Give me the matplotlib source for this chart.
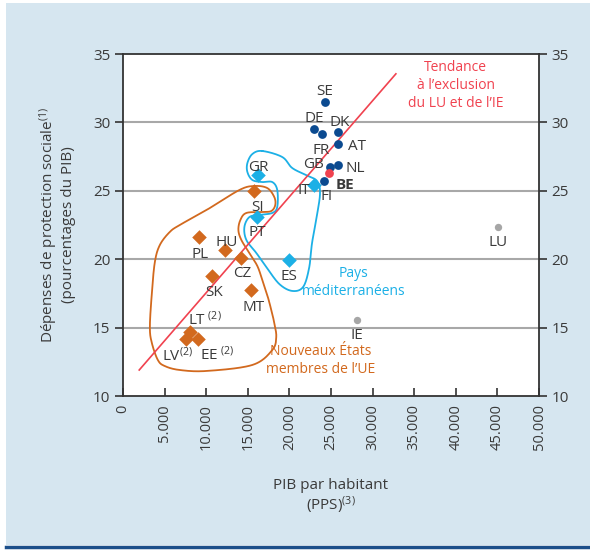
import matplotlib
matplotlib.use('Agg')
import matplotlib.pyplot as plt
from matplotlib.patches import Rectangle
from matplotlib.lines import Line2D
import numpy as np

plt.rcParams['font.family'] = ['Open Sans', 'DejaVu Sans']
plt.rcParams['mathtext.fontset'] = 'custom'
plt.rcParams['mathtext.rm'] = 'Open Sans'
plt.rcParams['mathtext.it'] = 'Open Sans'
plt.rcParams['mathtext.default'] = 'regular'

# --- donnees (PIB/hab en PPS, depenses en % du PIB) ---
# anciens Etats membres (points bleu fonce)
eu15_pays = ['SE', 'DE', 'FR', 'DK', 'AT', 'GB', 'NL', 'FI']
eu15_pib = [24300, 23000, 23900, 25900, 25900, 24900, 25800, 24100]
eu15_dep = [31.5, 29.55, 29.15, 29.3, 28.45, 26.75, 26.85, 25.75]

# Belgique (point rouge)
be_pib = [24700]
be_dep = [26.3]

# exclus de la tendance (gris)
excl_pays = ['LU', 'IE']
excl_pib = [45100, 28100]
excl_dep = [22.35, 15.55]

# pays mediterraneens (losanges bleu clair)
med_pays = ['GR', 'PT', 'IT', 'ES']
med_pib = [16200, 16100, 23000, 19950]
med_dep = [26.15, 23.1, 25.4, 19.95]

# nouveaux Etats membres (losanges orange)
nem_pays = ['SI', 'PL', 'HU', 'CZ', 'SK', 'MT', 'LT', 'LV', 'EE']
nem_pib = [15800, 9100, 12250, 14150, 10700, 15400, 8100, 7550, 9050]
nem_dep = [25.0, 21.65, 20.65, 20.1, 18.8, 17.75, 14.65, 14.15, 14.2]

# droite de tendance (extremites)
tend_pib = [1950, 32800]
tend_dep = [11.9, 33.55]

# contours (en unites des axes)
nem_cont_x = [15790, 17340, 18180, 18300, 17820, 16740, 14830, 14110, 13870, 14230,
              15190, 16150, 16740, 17340, 17820, 18180, 18420, 17940, 15550, 10050,
              6820, 5020, 4190, 3470, 3230, 3470, 3830, 4430, 5620, 6820, 10050, 13990]
nem_cont_y = [25.35, 25.2, 24.55, 23.96, 23.52, 23.45, 23.38, 22.87, 22.13, 21.4,
              20.45, 19.5, 18.48, 17.38, 16.29, 15.34, 14.31, 13.36, 12.27, 11.83,
              11.9, 12.19, 12.63, 13.87, 15.04, 17.53, 19.8, 21.04, 21.99, 22.5, 23.6, 25.06]
med_cont_x = [16740, 19140, 20330, 22010, 23320, 23680, 23320, 22720, 22370, 21650,
              20330, 18780, 17220, 16030, 14830, 14590, 15190, 16390, 17940, 18540,
              18540, 17940, 16740, 15550, 14950, 14950, 15550]
med_cont_y = [27.91, 27.47, 26.67, 26.15, 25.72, 24.84, 23.23, 21.18, 19.36, 17.97,
              17.68, 18.19, 19.43, 20.45, 21.4, 22.35, 23.08, 23.23, 23.38, 23.82,
              25.06, 25.64, 25.64, 25.79, 26.37, 27.03, 27.69]

x_ticks = list(range(0, 50001, 5000))
x_labels = ['0', '5.000', '10.000', '15.000', '20.000', '25.000',
            '30.000', '35.000', '40.000', '45.000', '50.000']
y_ticks = [10, 15, 20, 25, 30, 35]

C_DARK = '#0b4a90'
C_RED = '#f0424f'
C_GREY = '#a6a6a6'
C_ORANGE = '#d2691e'
C_CYAN = '#1cb0e6'
C_TEXT = '#3a3a3a'
C_BG = '#d6e6f0'


def contour_lisse(xs, ys, n=24):
    # Catmull-Rom ferme, calcule en coordonnees normalisees
    p = np.column_stack([np.array(xs) / 50000.0 * 416, np.array(ys) / 25.0 * 342])
    N = len(p)
    t = np.linspace(0, 1, n, endpoint=False)[:, None]
    seg = []
    for i in range(N):
        p0, p1, p2, p3 = p[i - 1], p[i], p[(i + 1) % N], p[(i + 2) % N]
        seg.append(0.5 * (2 * p1 + (-p0 + p2) * t + (2 * p0 - 5 * p1 + 4 * p2 - p3) * t ** 2
                          + (-p0 + 3 * p1 - 3 * p2 + p3) * t ** 3))
    seg.append(p[:1])
    out = np.vstack(seg)
    return out[:, 0] * 50000.0 / 416, out[:, 1] * 25.0 / 342


fig = plt.figure(figsize=(5.9, 5.5), dpi=100)
fig.patch.set_facecolor('white')
fond = Rectangle((6 / 590, 5 / 550), 1 - 6 / 590, 1 - 8 / 550,
                 transform=fig.transFigure, facecolor=C_BG, edgecolor='none', zorder=-10)
fig.patches.append(fond)
fig.lines.append(Line2D([6 / 590, 1], [3 / 550, 3 / 550], transform=fig.transFigure,
                        color='#1c4f8a', lw=2.5, zorder=-9))

ax = fig.add_axes([123 / 590, 1 - 396 / 550, 416 / 590, 342 / 550])
ax.set_facecolor('white')
ax.set_xlim(0, 50000)
ax.set_ylim(10, 35)

for yv in y_ticks[1:-1]:
    ax.axhline(yv, color='#a8a8a8', lw=1.5, zorder=1)

# contours
cx, cy = contour_lisse(nem_cont_x, nem_cont_y)
ax.plot(cx, cy, color=C_ORANGE, lw=1.3, zorder=2)
cx, cy = contour_lisse(med_cont_x, med_cont_y)
ax.plot(cx, cy, color=C_CYAN, lw=1.3, zorder=2)

# tendance
ax.plot(tend_pib, tend_dep, color=C_RED, lw=1.2, zorder=3)

ax.scatter(eu15_pib, eu15_dep, s=40, color=C_DARK, zorder=4, linewidths=0)
ax.scatter(be_pib, be_dep, s=40, color=C_RED, zorder=4, linewidths=0)
ax.scatter(excl_pib, excl_dep, s=28, color=C_GREY, zorder=4, linewidths=0)
ax.scatter(med_pib, med_dep, s=55, marker='D', color=C_CYAN, zorder=4, linewidths=0)
ax.scatter(nem_pib, nem_dep, s=55, marker='D', color=C_ORANGE, zorder=4, linewidths=0)

# etiquettes des pays (decalage en pixels, x vers la droite, y vers le haut)
decal = {
    'SE': (0, 12), 'DE': (0, 12), 'DK': (1, 11), 'FR': (-1, -14), 'AT': (19, -1),
    'GB': (-17, 4), 'NL': (18, -1), 'BE': (16, -10), 'FI': (3, -14),
    'GR': (1, 10), 'PT': (0, -14), 'IT': (-11, -3), 'ES': (0, -15),
    'SI': (3, -15), 'PL': (1, -16), 'HU': (2, 10), 'CZ': (2, -14),
    'SK': (2, -15), 'MT': (2, -16), 'LT': (15, 15), 'LV': (-8, -14),
    'EE': (19, -14), 'LU': (0, -13), 'IE': (0, -13),
}
texte = {'LT': 'LT$^{\\ (2)}$', 'LV': 'LV$^{(2)}$', 'EE': 'EE$^{\\ (2)}$'}

noms = eu15_pays + ['BE'] + excl_pays + med_pays + nem_pays
xs = eu15_pib + be_pib + excl_pib + med_pib + nem_pib
ys = eu15_dep + be_dep + excl_dep + med_dep + nem_dep
for nom, xv, yv in zip(noms, xs, ys):
    dx, dy = decal[nom]
    ax.annotate(texte.get(nom, nom), (xv, yv), xytext=(dx * 0.72, dy * 0.72),
                textcoords='offset points', ha='center', va='center_baseline',
                fontsize=11, color=C_TEXT, zorder=5,
                fontweight='bold' if nom == 'BE' else 'normal')

ax.text(40000, 32.7, "Tendance\nà l\u2019exclusion\ndu LU et de l\u2019IE", color=C_RED,
        ha='center', va='center', fontsize=10, linespacing=1.25)
ax.text(27700, 18.3, "Pays\nméditerranéens", color=C_CYAN,
        ha='center', va='center', fontsize=10, linespacing=1.25)
ax.text(23800, 12.6, "Nouveaux États\nmembres de l\u2019UE", color=C_ORANGE,
        ha='center', va='center', fontsize=10, linespacing=1.2)

# axes
for sp in ax.spines.values():
    sp.set_color('#333333')
    sp.set_linewidth(1.3)
ax.set_xticks(x_ticks)
ax.set_xticklabels(x_labels, rotation=90, fontsize=10.5, color=C_TEXT)
ax.tick_params(axis='x', direction='in', length=6, width=1.2, color='#333333', pad=6)
ax.set_yticks(y_ticks)
ax.tick_params(axis='y', direction='out', length=6, width=1.2, color='#333333',
               labelsize=11, labelcolor=C_TEXT, left=True, right=True,
               labelleft=True, labelright=True, pad=3)

ax.set_xlabel("PIB par habitant\n(PPS)$^{(3)}$", fontsize=11, color=C_TEXT, labelpad=20,
              linespacing=1.1)
ax.set_ylabel("Dépenses de protection sociale$^{(1)}$\n(pourcentages du PIB)",
              fontsize=11, color=C_TEXT, labelpad=12, linespacing=1.1)

fig.savefig('out.png', dpi=100, facecolor=fig.get_facecolor())
